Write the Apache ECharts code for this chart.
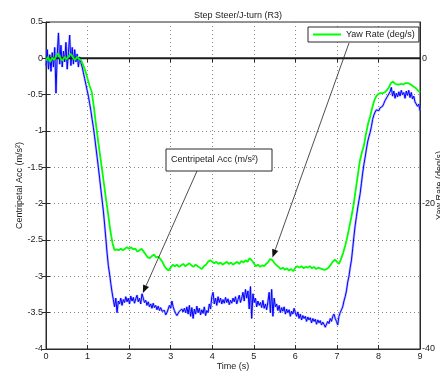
<!DOCTYPE html>
<html>
<head>
<meta charset="utf-8">
<script src="https://cdn.jsdelivr.net/npm/echarts@6/dist/echarts.min.js"></script>
<style>
  html, body { margin: 0; padding: 0; background: #fff; }
  #chart { width: 440px; height: 379px; }
</style>
</head>
<body>
<div id="chart"></div>
<script>
// Sample spacing of the two logged channels (s)
const ACC_DT = 0.03;
const YAW_DT = 0.05;

// Centripetal acceleration (m/s^2), one value every ACC_DT from t = 0
const centripetalAcc = [
  -0.10, 0.12, -0.15, 0.05, -0.18, 0.08, -0.12, 0.15, -0.48, 0.05,
  0.35, -0.08, 0.18, -0.12, 0.10, -0.05, 0.22, -0.15, 0.08, 0.32,
  -0.10, 0.15, -0.08, 0.12, -0.05, 0.06, -0.12, 0.02, -0.06, -0.12,
  -0.20, -0.28, -0.36, -0.44, -0.52, -0.62, -0.72, -0.84, -0.95, -1.08,
  -1.22, -1.36, -1.50, -1.65, -1.80, -1.95, -2.10, -2.28, -2.48, -2.68,
  -2.85, -2.97, -3.10, -3.22, -3.32, -3.42, -3.30, -3.50, -3.34, -3.38,
  -3.30, -3.40, -3.32, -3.36, -3.28, -3.35, -3.30, -3.38, -3.27, -3.34,
  -3.29, -3.37, -3.31, -3.26, -3.35, -3.30, -3.38, -3.24, -3.30, -3.36,
  -3.33, -3.40, -3.35, -3.42, -3.38, -3.44, -3.37, -3.43, -3.40, -3.46,
  -3.41, -3.47, -3.43, -3.48, -3.50, -3.47, -3.53, -3.50, -3.45, -3.40,
  -3.44, -3.34, -3.42, -3.47, -3.51, -3.54, -3.52, -3.48, -3.50, -3.45,
  -3.49, -3.44, -3.50, -3.42, -3.52, -3.40, -3.55, -3.43, -3.58, -3.45,
  -3.52, -3.41, -3.50, -3.44, -3.53, -3.46, -3.51, -3.42, -3.54, -3.47,
  -3.50, -3.38, -3.45, -3.28, -3.22, -3.38, -3.30, -3.40, -3.28, -3.36,
  -3.30, -3.38, -3.32, -3.37, -3.29, -3.36, -3.31, -3.39, -3.33, -3.37,
  -3.30, -3.35, -3.28, -3.38, -3.32, -3.26, -3.36, -3.30, -3.22, -3.34,
  -3.18, -3.30, -3.20, -3.45, -3.14, -3.58, -3.24, -3.36, -3.30, -3.42,
  -3.34, -3.40, -3.36, -3.43, -3.33, -3.44, -3.38, -3.46, -3.35, -3.22,
  -3.50, -3.18, -3.55, -3.30, -3.42, -3.38, -3.47, -3.40, -3.50, -3.43,
  -3.48, -3.42, -3.52, -3.45, -3.50, -3.46, -3.55, -3.48, -3.52, -3.44,
  -3.50, -3.55, -3.49, -3.58, -3.52, -3.60, -3.54, -3.58, -3.55, -3.62,
  -3.56, -3.60, -3.57, -3.64, -3.58, -3.62, -3.59, -3.66, -3.60, -3.64,
  -3.61, -3.67, -3.63, -3.66, -3.70, -3.68, -3.62, -3.65, -3.58, -3.62,
  -3.55, -3.52, -3.58, -3.62, -3.67, -3.55, -3.50, -3.46, -3.42, -3.34,
  -3.28, -3.20, -3.08, -3.00, -2.88, -2.78, -2.62, -2.45, -2.30, -2.18,
  -2.06, -1.96, -1.86, -1.72, -1.58, -1.46, -1.36, -1.25, -1.15, -1.08,
  -1.02, -0.94, -0.84, -0.78, -0.74, -0.71, -0.70, -0.72, -0.68, -0.70,
  -0.66, -0.62, -0.58, -0.56, -0.52, -0.50, -0.46, -0.40, -0.52, -0.45,
  -0.55, -0.48, -0.53, -0.46, -0.52, -0.44, -0.50, -0.47, -0.55, -0.45,
  -0.51, -0.44, -0.54, -0.47, -0.56, -0.52, -0.60, -0.58, -0.66, -0.63,
  -0.72
];

// Yaw rate (deg/s), one value every YAW_DT from t = 0
const yawRate = [
  -0.3, 0.2, -0.5, 0.1, -0.2, 0.4, 0.7, 0.0, -0.3, 0.2,
  -0.1, 0.3, 0.6, 0.1, -0.2, 0.2, -0.1, -0.3, -1.0, -1.8,
  -2.8, -3.8, -4.6, -6.6, -9.0, -11.2, -13.3, -15.4, -17.5, -19.6,
  -21.6, -23.8, -25.4, -26.4, -26.3, -26.4, -26.2, -26.4, -26.2, -26.0,
  -26.2, -26.0, -26.3, -26.2, -26.6, -26.4, -26.2, -26.6, -27.0, -27.4,
  -27.5, -27.2, -27.0, -27.4, -27.3, -27.6, -28.0, -28.6, -29.0, -29.2,
  -28.8, -28.4, -28.6, -28.4, -28.7, -28.5, -28.3, -28.6, -28.4, -28.2,
  -28.5, -28.7, -28.4, -28.6, -28.8, -29.0, -28.6, -28.4, -28.0, -27.8,
  -28.0, -28.2, -28.0, -28.3, -28.1, -28.4, -28.2, -28.0, -28.3, -28.1,
  -28.4, -28.2, -28.0, -28.3, -27.9, -28.1, -27.8, -28.0, -27.5, -27.8,
  -28.2, -28.6, -28.4, -28.7, -28.5, -28.6, -28.3, -28.0, -27.6, -27.8,
  -28.2, -28.5, -28.7, -29.0, -28.8, -29.1, -28.9, -29.2, -29.0, -29.3,
  -28.8, -28.6, -28.8, -28.6, -28.9, -28.7, -28.8, -28.6, -28.9, -28.7,
  -29.0, -28.8, -28.9, -29.0, -29.1, -29.0, -28.8, -28.4, -28.0, -27.7,
  -28.0, -28.3, -27.6, -26.8, -25.8, -24.6, -23.2, -21.8, -20.2, -18.2,
  -16.2, -14.2, -13.0, -12.0, -10.4, -9.0, -8.0, -6.8, -5.8, -5.2,
  -4.9, -4.8, -4.8, -4.7, -4.4, -4.0, -3.4, -3.2, -3.5, -3.6,
  -3.6, -3.5, -3.6, -3.4, -3.4, -3.5, -3.7, -3.9, -4.1, -4.4,
  -4.7
];

// Axis ranges and tick steps
const timeRange = [0, 9];
const timeStep = 1;
const accRange = [-4, 0.5];
const accStep = 0.5;
const yawRange = [-40, 5];
const yawStep = 20;

// Points picked out by the call-out arrows: [time, value]
const accCallout = [2.33, -3.23];
const yawCallout = [5.45, -27.4];

const TEXT = '#222';
const FONT = 'Liberation Sans, Arial, Helvetica, sans-serif';

const accPoints = centripetalAcc.map((v, i) => [+(i * ACC_DT).toFixed(3), v]);
const yawPoints = yawRate.map((v, i) => [+(i * YAW_DT).toFixed(3), v]);

const chart = echarts.init(document.getElementById('chart'), null, { renderer: 'canvas' });

const gridLine = { show: true, lineStyle: { color: '#8a8a8a', width: 1, type: [1, 3] } };
const tickStyle = { show: true, inside: true, length: 4, lineStyle: { color: '#2a2a2a' } };

chart.setOption({
  animation: false,
  backgroundColor: '#fff',
  textStyle: { fontFamily: FONT },
  title: {
    text: 'Step Steer/J-turn (R3)',
    left: 233, top: 6, textAlign: 'center',
    textStyle: { fontSize: 9, fontWeight: 'normal', color: TEXT, fontFamily: FONT }
  },
  grid: {
    left: 46, right: 20, top: 22, bottom: 30,
    outerBoundsMode: 'none', containLabel: false,
    show: true, borderColor: '#2a2a2a', borderWidth: 1, backgroundColor: '#fff'
  },
  legend: {
    left: 308, top: 27,
    data: [{ name: 'Yaw Rate (deg/s)', icon: 'rect' }],
    itemWidth: 28, itemHeight: 2,
    padding: [3, 4, 3, 5],
    borderColor: '#2a2a2a', borderWidth: 1, backgroundColor: '#fff',
    textStyle: { fontSize: 9, color: TEXT, fontFamily: FONT }
  },
  xAxis: [{
    type: 'value', min: timeRange[0], max: timeRange[1], interval: timeStep,
    name: 'Time (s)', nameLocation: 'middle', nameGap: 13, nameMoveOverlap: false,
    nameTextStyle: { fontSize: 9, color: TEXT },
    axisLine: { show: true, onZero: false, lineStyle: { color: '#2a2a2a' } },
    axisTick: tickStyle,
    axisLabel: { fontSize: 9, color: TEXT, margin: 3 },
    splitLine: gridLine
  }, {
    type: 'value', position: 'top', min: timeRange[0], max: timeRange[1], interval: timeStep,
    axisLine: { show: false },
    axisTick: tickStyle,
    axisLabel: { show: false },
    splitLine: { show: false }
  }],
  yAxis: [{
    type: 'value', min: accRange[0], max: accRange[1], interval: accStep,
    name: 'Centripetal Acc (m/s²)', nameLocation: 'middle', nameGap: 22, nameRotate: 90,
    nameMoveOverlap: false,
    nameTextStyle: { fontSize: 9, color: TEXT },
    axisLine: { show: true, onZero: false, lineStyle: { color: '#2a2a2a' } },
    axisTick: tickStyle,
    axisLabel: { fontSize: 9, color: TEXT, margin: 3 },
    splitLine: gridLine
  }, {
    type: 'value', position: 'right', min: yawRange[0], max: yawRange[1], interval: yawStep,
    name: 'Yaw Rate (deg/s)', nameLocation: 'middle', nameGap: 15, nameRotate: 90,
    nameMoveOverlap: false,
    nameTextStyle: { fontSize: 9, color: TEXT },
    axisLine: { show: true, onZero: false, lineStyle: { color: '#2a2a2a' } },
    axisTick: { show: false },
    axisLabel: { fontSize: 9, color: TEXT, margin: 2, showMaxLabel: false },
    splitLine: { show: false }
  }, {
    type: 'value', position: 'right', min: accRange[0], max: accRange[1], interval: accStep,
    axisLine: { show: false },
    axisTick: tickStyle,
    axisLabel: { show: false },
    splitLine: { show: false }
  }],
  series: [{
    // soft fringe under the acceleration trace
    name: 'accHalo',
    type: 'line', xAxisIndex: 0, yAxisIndex: 0,
    data: accPoints, showSymbol: false, symbol: 'none', silent: true,
    lineStyle: { color: '#7f7fff', width: 2.4, opacity: 0.55 },
    z: 1
  }, {
    name: 'Centripetal Acc (m/s²)',
    type: 'line', xAxisIndex: 0, yAxisIndex: 0,
    data: accPoints, showSymbol: false, symbol: 'none',
    lineStyle: { color: '#0000ff', width: 1 }, itemStyle: { color: '#0000ff' },
    z: 2
  }, {
    name: 'zero',
    type: 'line', xAxisIndex: 0, yAxisIndex: 0,
    data: [[timeRange[0], 0], [timeRange[1], 0]], showSymbol: false, symbol: 'none',
    lineStyle: { color: '#1a1a1a', width: 2 },
    z: 3
  }, {
    name: 'Yaw Rate (deg/s)',
    type: 'line', xAxisIndex: 0, yAxisIndex: 1,
    data: yawPoints, showSymbol: false, symbol: 'none',
    lineStyle: { color: '#00ff00', width: 1.8 }, itemStyle: { color: '#00ff00' },
    z: 4
  }]
});

// Call-out box and arrows
function arrow(from, tip) {
  const dx = tip[0] - from[0], dy = tip[1] - from[1];
  const len = Math.hypot(dx, dy);
  const ux = dx / len, uy = dy / len;
  const hl = 8, hw = 3.2;
  const bx = tip[0] - ux * hl, by = tip[1] - uy * hl;
  return [{
    type: 'line', z: 100,
    shape: { x1: from[0], y1: from[1], x2: bx, y2: by },
    style: { stroke: '#222', lineWidth: 0.8 }
  }, {
    type: 'polygon', z: 100,
    shape: { points: [tip, [bx - uy * hw, by + ux * hw], [bx + uy * hw, by - ux * hw]] },
    style: { fill: '#111' }
  }];
}

const accTip = chart.convertToPixel({ xAxisIndex: 0, yAxisIndex: 0 }, accCallout);
const yawTip = chart.convertToPixel({ xAxisIndex: 0, yAxisIndex: 1 }, yawCallout);

chart.setOption({
  graphic: [
    {
      type: 'rect', z: 100,
      shape: { x: 166, y: 149, width: 106, height: 22 },
      style: { fill: '#fff', stroke: '#2a2a2a', lineWidth: 1 }
    },
    {
      type: 'text', z: 101, x: 171, y: 160,
      style: {
        text: 'Centripetal Acc (m/s²)', fill: TEXT,
        font: '9px ' + FONT, verticalAlign: 'middle', align: 'left'
      }
    },
    ...arrow([197, 171], accTip),
    ...arrow([349, 43], yawTip)
  ]
});
</script>
</body>
</html>
